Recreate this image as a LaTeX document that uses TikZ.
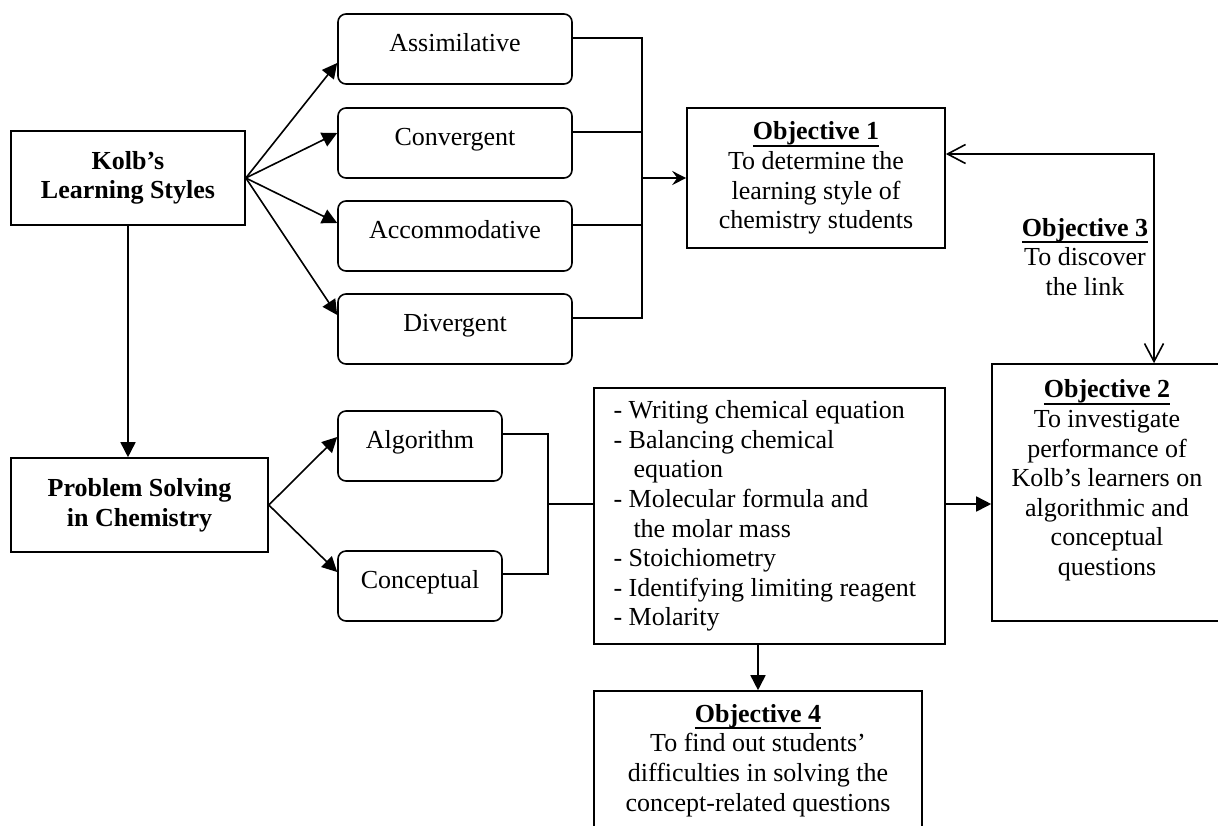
\documentclass[tikz,border=0pt]{standalone}
\usepackage{fontspec}
\setmainfont{Liberation Serif}
\usetikzlibrary{arrows.meta,calc}
\newcommand{\objtitle}[1]{\setbox0\hbox{\textbf{Objective #1}}\rlap{\rule[-3.5pt]{\wd0}{1pt}}\box0}

\begin{document}
\begin{tikzpicture}[x=0.5pt, y=-0.5pt, line width=0.8pt,
    font=\fontsize{13pt}{14.8pt}\selectfont,
    mainbox/.style={draw, rectangle, align=center, inner sep=0pt},
    stylebox/.style={draw, rectangle, rounded corners=4pt, inner sep=0pt, minimum height=35pt, text height=9pt, text depth=6.4pt},
    arr/.style={-{Triangle[length=7.5pt,width=7.5pt]}},
    stealtharr/.style={-{Stealth[length=7pt,width=7pt,inset=2.5pt]}},
    openarr/.style={{Straight Barb[length=9pt,width=9.5pt]}-{Straight Barb[length=9pt,width=9.5pt]}}]
    \path[use as bounding box, clip] (0,0) rectangle (1218,825);
    % Nodes
    \node [mainbox, minimum width=117pt, minimum height=47pt] (kolb) at (128,178) {\textbf{Kolb's}\\\textbf{Learning Styles}};
    \node [stylebox, minimum width=117pt] (assim) at (455,49) {Assimilative};
    \node [stylebox, minimum width=117pt] (conv) at (455,143) {Convergent};
    \node [stylebox, minimum width=117pt] (accom) at (455,236) {Accommodative};
    \node [stylebox, minimum width=117pt] (diverg) at (455,329) {Divergent};
    \node [mainbox, minimum width=129pt, minimum height=70pt] (obj1) at (816,178) {\objtitle{1}\\To determine the\\learning style of\\chemistry students};
    \node [mainbox, minimum width=128.5pt, minimum height=47pt] (probsolve) at (139.5,505) {\textbf{Problem Solving}\\\textbf{in Chemistry}};
    \node [stylebox, minimum width=82pt] (algo) at (420,446) {Algorithm};
    \node [stylebox, minimum width=82pt] (concept) at (420,586) {Conceptual};
    \node [draw, rectangle, align=flush left, text width=156pt, inner xsep=9.75pt, inner ysep=0pt, minimum height=128pt] (topics) at (769.5,516) {- Writing chemical equation\\- Balancing chemical\\\hspace*{10pt}equation\\- Molecular formula and\\\hspace*{10pt}the molar mass\\- Stoichiometry\\- Identifying limiting reagent\\- Molarity};
    \node [mainbox, minimum width=115pt, minimum height=128.5pt] (obj2) at (1107,492.5) {\objtitle{2}\\To investigate\\performance of\\Kolb's learners on\\algorithmic and\\conceptual\\questions\rule[-14.8pt]{0pt}{14.8pt}};
    \node [mainbox, minimum width=164pt, minimum height=69.5pt] (obj4) at (758,760.5) {\objtitle{4}\\To find out students'\\difficulties in solving the\\concept-related questions};
    \node [align=center, inner sep=0pt] (obj3) at (1085,257) {\objtitle{3}\\To discover\\the link};
    % Arrows
    \foreach \n/\d in {assim/14, conv/-10, accom/-13, diverg/-14}
        \draw[arr] (kolb.east) -- ($(\n.west)+(0,\d)$);
    \coordinate (join1) at (642,178);
    \foreach \n in {assim, conv, accom, diverg}
        \draw ($(\n.east)+(0,-11)$) -| (join1);
    \draw[stealtharr] (join1) -- (obj1.west);
    \draw[arr] (kolb.south) -- (kolb.south |- probsolve.north);
    \draw[arr] (probsolve.east) -- ($(algo.west)+(0,-9)$);
    \draw[arr] (probsolve.east) -- ($(concept.west)+(0,-14)$);
    \coordinate (join2) at (548,504);
    \draw ($(algo.east)+(0,-12)$) -| (join2);
    \draw ($(concept.east)+(0,-12)$) -| (join2);
    \draw (join2) -- (join2 -| topics.west);
    \draw[arr] (join2 -| topics.east) -- (join2 -| obj2.west);
    \draw[arr] (obj4.north |- topics.south) -- (obj4.north);
    \coordinate (turn) at (1154,154);
    \draw[openarr] (turn -| obj1.east) -- (turn) -- (turn |- obj2.north);
\end{tikzpicture}
\end{document}
